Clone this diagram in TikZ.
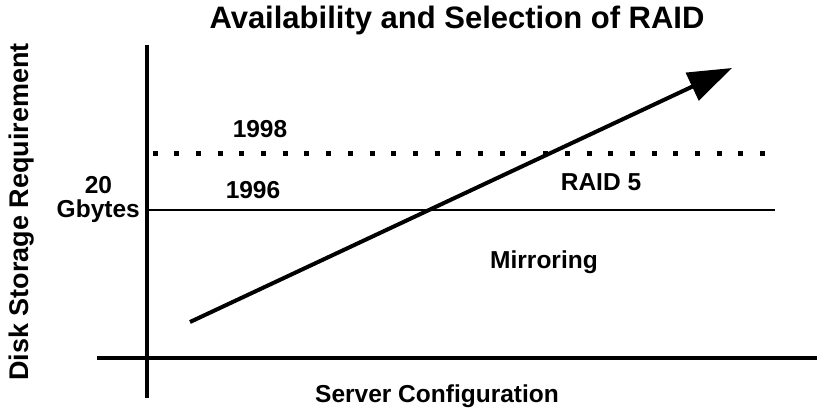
\documentclass[tikz,border=0pt]{standalone}
\usepackage{fontspec}
\setmainfont{Liberation Sans}
\usetikzlibrary{arrows.meta}
\begin{document}
\begin{tikzpicture}[x=1pt,y=-1pt,
  lbl/.style={font=\fontsize{24.5}{28}\selectfont\bfseries, inner sep=0pt, anchor=base},
  axis/.style={line width=3.5pt},
  level/.style={line width=2pt},
  plan/.style={line width=5pt, dash pattern=on 5pt off 16.7pt},
  trend/.style={line width=4pt, -{Triangle[length=44pt,width=30pt]}}]
  \useasboundingbox (0,0) rectangle (817,410);
  % axes
  \coordinate (yTop) at (147,45);
  \coordinate (yBot) at (147,398);
  \coordinate (xL) at (97,358);
  \coordinate (xR) at (817,358);
  \draw[axis] (yTop) -- (yBot);
  \draw[axis] (xL) -- (xR);
  % capacity levels
  \coordinate (l96a) at (147,210);
  \coordinate (l96b) at (775,210);
  \coordinate (l98a) at (152.5,153);
  \coordinate (l98b) at (778,153);
  \draw[level] (l96a) -- (l96b);
  \draw[plan] (l98a) -- (l98b);
  % growth arrow
  \coordinate (gA) at (190,322);
  \coordinate (gB) at (732,68);
  \draw[trend] (gA) -- (gB);
  % labels
  \node[lbl, font=\fontsize{31}{34}\selectfont\bfseries] (title) at (457,28) {Availability and Selection of RAID};
  \node[lbl] (y98) at (260,137) {1998};
  \node[lbl] (y96) at (253,198) {1996};
  \node[lbl] (g20) at (98.5,193) {20};
  \node[lbl, anchor=base east] (gb) at (140,217) {Gbytes};
  \node[lbl] (r5) at (601,190) {RAID 5};
  \node[lbl] (mir) at (544,268) {Mirroring};
  \node[lbl] (xlab) at (437,402) {Server Configuration};
  \node[lbl, rotate=90, font=\fontsize{27}{30}\selectfont\bfseries] (ylab) at (28,212) {Disk Storage Requirement};
\end{tikzpicture}
\end{document}
